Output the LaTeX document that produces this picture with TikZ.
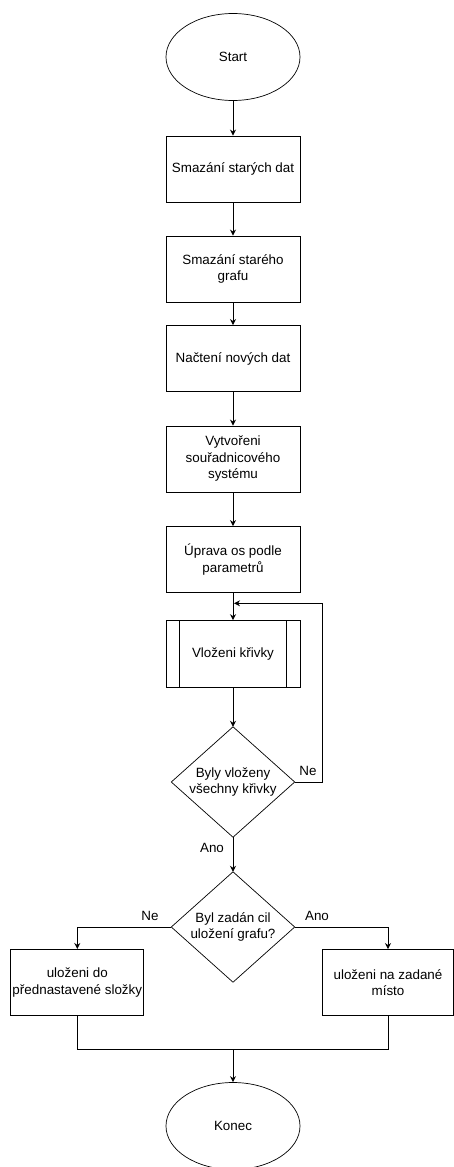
\documentclass[tikz,border=0pt]{standalone}
\usepackage{fontspec}
\setmainfont{Liberation Sans}
\usetikzlibrary{shapes.geometric,arrows.meta,calc}
\begin{document}
\begin{tikzpicture}[x=1pt,y=-1pt,
  every node/.style={font=\fontsize{13.4}{16.5}\selectfont, align=center},
  term/.style={draw, ellipse, minimum width=134pt, minimum height=87pt, inner sep=0pt, line width=0.7pt},
  proc/.style={draw, rectangle, minimum width=134pt, minimum height=66pt, inner sep=0pt, line width=0.9pt},
  dec/.style={rectangle, minimum width=123pt, minimum height=110pt, inner sep=0pt},
  decline/.style={line width=0.7pt},
  conn/.style={line width=0.9pt},
  arr/.style={conn, -{Stealth[length=6pt,width=6pt]}},
  lbl/.style={inner sep=1pt}
]
\useasboundingbox (0,0) rectangle (454,1167);
\node[term] (start) at (233,57) {Start};
\node[proc] (b1) at (233,169) {Smazání starých dat};
\node[proc] (b2) at (233,269) {Smazání starého\\grafu};
\node[proc] (b3) at (233,358.5) {Načtení nových dat};
\node[proc] (b4) at (233,459) {Vytvořeni\\souřadnicového\\systému};
\node[proc] (b5) at (233,559.5) {Úprava os podle\\parametrů};
\node[proc, minimum height=66.7pt] (b6) at (233,654) {Vloženi křivky};
\draw[conn] ($(b6.north west)+(14,0)$) -- ($(b6.south west)+(14,0)$);
\draw[conn] ($(b6.north east)+(-14,0)$) -- ($(b6.south east)+(-14,0)$);
\node[dec] (d1) at (233,782) {Byly vloženy\\všechny křivky};
\draw[decline] (d1.north) -- (d1.east) -- (d1.south) -- (d1.west) -- cycle;
\node[dec] (d2) at (233,927) {Byl zadán cil\\uložení grafu?};
\draw[decline] (d2.north) -- (d2.east) -- (d2.south) -- (d2.west) -- cycle;
\node[proc, minimum width=133pt] (left) at (77.3,982.5) {uloženi do\\přednastavené složky};
\node[proc, minimum width=131pt] (right) at (388,982.5) {uloženi na zadané\\místo};
\node[term] (end) at (233,1126) {Konec};

\coordinate (loopin) at (233,603.3);
\coordinate (loopc1) at (322.7,782);
\coordinate (loopc2) at (322.7,603.3);
\coordinate (merge) at (233,1049.3);
\coordinate (ml) at (77.3,1049.3);
\coordinate (mr) at (388,1049.3);

\draw[arr] (start) -- (b1);
\draw[arr] (b1) -- (b2);
\draw[arr] (b2) -- (b3);
\draw[arr] (b3) -- (b4);
\draw[arr] (b4) -- (b5);
\draw[arr] (b5) -- (b6);
\draw[arr] (b6) -- (d1.north);
\draw[arr] (d1.east) -- (loopc1) -- (loopc2) -- ($(loopin)+(1,0)$);
\draw[arr] (d1.south) -- (d2.north);
\draw[arr] (d2.west) -| (left.north);
\draw[arr] (d2.east) -| (right.north);
\draw[conn] (left.south) -- (ml) -- (mr) -- (right.south);
\draw[arr] (merge) -- (end.north);

\node[lbl] (ne1) at (308,771) {Ne};
\node[lbl] (ano1) at (212,848) {Ano};
\node[lbl] (ne2) at (150,916) {Ne};
\node[lbl] (ano2) at (317,916) {Ano};
\end{tikzpicture}
\end{document}
